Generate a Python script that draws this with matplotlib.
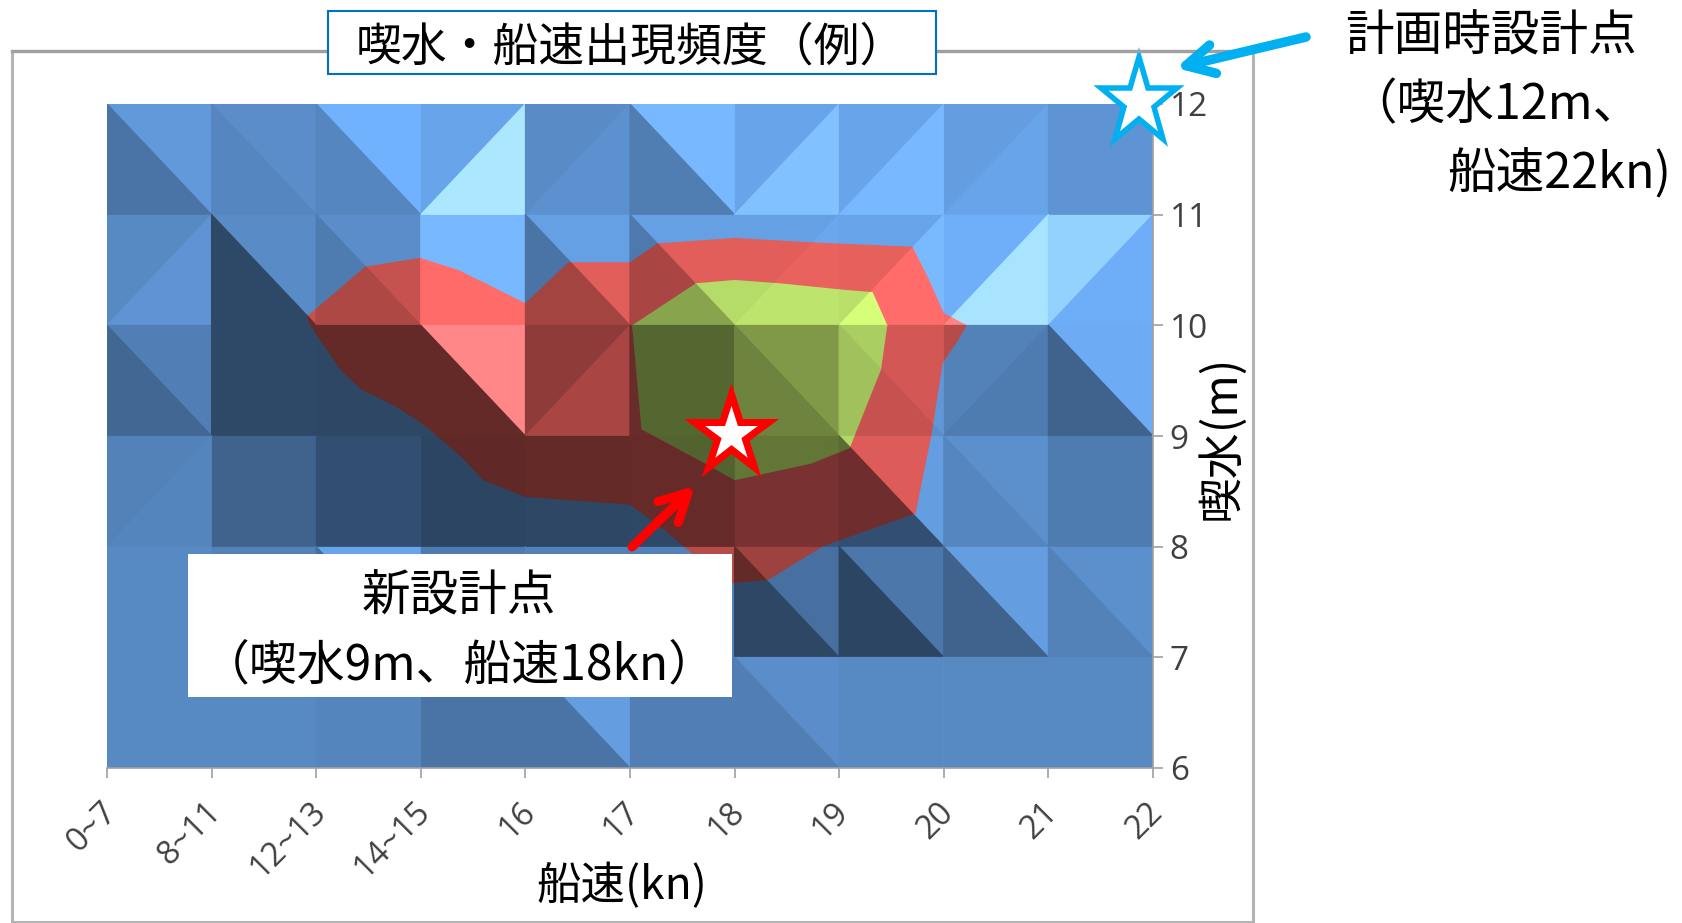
import numpy as np
import matplotlib
matplotlib.use("Agg")
import matplotlib.pyplot as plt
from matplotlib.collections import PolyCollection
from matplotlib.markers import MarkerStyle
from matplotlib.patches import Polygon, Rectangle
from matplotlib.transforms import Affine2D, ScaledTranslation

plt.rcParams["font.family"] = ["Noto Sans CJK JP", "DejaVu Sans"]

SPEED_LABELS = ["0~7", "8~11", "12~13", "14~15", "16", "17", "18", "19", "20", "21", "22"]
DRAFT_VALUES = [6, 7, 8, 9, 10, 11, 12]

# surface facets, rows run from draft 12 down to draft 6
# b = cell split top-left to bottom-right, f = split bottom-left to top-right
SPLITS = [
    "bbbffbffff",
    "fbbbbbffff",
    "bbbbfbbbfb",
    "fffffffbbf",
    "ffbffbbbbb",
    "ffffbfbfff",
]

# brightness of the upper facet in each cell
UPPER_SHADE = [
    [1.12, 1.03, 1.30, 1.20, 1.02, 1.35, 1.20, 1.20, 1.15, 1.08],
    [1.00, 1.02, 1.03, 1.35, 1.17, 1.17, 1.17, 1.20, 1.28, 1.55],
    [0.93, 0.53, 0.52, 1.75, 0.74, 0.55, 0.82, 1.10, 0.95, 1.25],
    [0.95, 0.72, 0.58, 0.50, 0.52, 0.53, 0.63, 1.15, 1.05, 0.90],
    [1.00, 0.95, 1.20, 0.90, 0.95, 0.95, 0.82, 0.87, 1.15, 1.05],
    [1.00, 1.00, 0.97, 0.85, 1.15, 0.93, 1.03, 1.00, 1.00, 1.00],
]

# brightness of the lower facet in each cell
LOWER_SHADE = [
    [0.85, 0.98, 0.98, 1.72, 1.06, 0.92, 1.42, 1.35, 1.20, 1.08],
    [1.08, 0.53, 0.90, 1.35, 0.85, 0.88, 1.22, 1.36, 1.70, 1.27],
    [0.75, 0.53, 0.52, 0.52, 0.88, 0.55, 0.70, 1.03, 0.90, 0.72],
    [0.97, 0.72, 0.58, 0.50, 0.52, 0.53, 0.63, 0.58, 0.98, 0.90],
    [1.00, 0.95, 0.80, 0.90, 0.95, 0.95, 0.52, 0.50, 0.72, 0.95],
    [1.00, 1.00, 0.97, 0.85, 0.85, 0.93, 0.93, 1.00, 1.00, 1.00],
]

# frequency contours as (speed index, draft)
MIDDLE_BAND = [
    (1.91, 10.08), (2.47, 10.53), (2.99, 10.61), (3.36, 10.50), (4.00, 10.20),
    (4.41, 10.57), (5.00, 10.57), (5.26, 10.74), (6.00, 10.79), (6.73, 10.75),
    (7.70, 10.71), (7.86, 10.41), (8.00, 10.11), (8.22, 10.00), (8.12, 9.84),
    (7.99, 9.66), (7.88, 9.00), (7.73, 8.30), (6.98, 8.05), (6.84, 8.00),
    (6.32, 7.70), (5.98, 7.67), (5.80, 7.68), (5.59, 7.94), (5.33, 8.15),
    (5.00, 8.38), (4.71, 8.40), (4.00, 8.45), (3.60, 8.60), (3.39, 8.81),
    (3.08, 9.06), (3.00, 9.12), (2.74, 9.28), (2.43, 9.42), (2.23, 9.60),
    (1.95, 9.99),
]
TOP_BAND = [
    (5.02, 10.00), (5.63, 10.38), (6.00, 10.41), (6.43, 10.38), (7.06, 10.32),
    (7.32, 10.30), (7.46, 10.00), (7.40, 9.60), (7.10, 8.89), (6.73, 8.75),
    (6.00, 8.60), (5.70, 8.76), (5.11, 9.06),
]

LOW_COLOR = (87, 137, 195)
MIDDLE_COLOR = (192, 80, 77)
TOP_COLOR = (155, 187, 89)

PLAN_POINT = (10, 12)
NEW_POINT = (6, 9)

PX = 0.72


def facets():
    polygons = []
    shades = []
    for row, split in enumerate(SPLITS):
        top = DRAFT_VALUES[-1] - row
        bottom = top - 1
        for col, kind in enumerate(split):
            left = col
            right = col + 1
            if kind == "b":
                upper = [(left, top), (right, top), (right, bottom)]
                lower = [(left, top), (right, bottom), (left, bottom)]
            else:
                upper = [(left, bottom), (left, top), (right, top)]
                lower = [(left, bottom), (right, top), (right, bottom)]
            polygons.append(upper)
            shades.append(UPPER_SHADE[row][col])
            polygons.append(lower)
            shades.append(LOWER_SHADE[row][col])
    return polygons, np.array(shades)


def draw_band(ax, polygons, shades, color, outline=None):
    colors = np.outer(shades, color)
    # the brightest facets wash out towards white
    lift = np.clip(shades - 1.3, 0, None)
    colors = colors + np.outer(lift, (50, -12, 0))
    colors = np.clip(colors / 255, 0, 1)
    band = PolyCollection(
        polygons,
        facecolors=colors,
        edgecolors=colors,
        linewidths=0.9,
        zorder=2
    )
    ax.add_collection(band)
    if outline is not None:
        band.set_clip_path(
            Polygon(outline, closed=True, transform=ax.transData)
        )
    else:
        band.set_clip_path(
            Rectangle((0, 0), 1, 1, transform=ax.transAxes)
        )


fig = plt.figure(figsize=(16.82, 9.23), dpi=100)

# surface axes, placed in pixels
ax = fig.add_axes([107 / 1682, 1 - 768 / 923, 1046 / 1682, 664 / 923])
ax.set_xlim(0, 10)
ax.set_ylim(6, 12)

polygons, shades = facets()
draw_band(ax, polygons, shades, LOW_COLOR)
draw_band(ax, polygons, shades, MIDDLE_COLOR, MIDDLE_BAND)
draw_band(ax, polygons, shades, TOP_COLOR, TOP_BAND)

ax.set_xticks(range(len(SPEED_LABELS)))
ax.set_xticklabels(
    SPEED_LABELS,
    rotation=45,
    ha="right",
    va="top",
    rotation_mode="anchor",
    fontsize=23.5,
    color="#404040",
    family=["Open Sans", "DejaVu Sans"]
)

ax.yaxis.tick_right()
ax.set_yticks(DRAFT_VALUES)
ax.set_yticklabels(
    DRAFT_VALUES,
    fontsize=24,
    color="#404040",
    family=["Open Sans", "DejaVu Sans"]
)
ax.tick_params(axis="x", length=7, width=1.2, color="#A0A0A0", pad=13)
ax.tick_params(axis="y", length=7, width=1.2, color="#A0A0A0", pad=5)
for side in ["top", "left"]:
    ax.spines[side].set_visible(False)
for side in ["bottom", "right"]:
    ax.spines[side].set_color("#A0A0A0")
    ax.spines[side].set_linewidth(1.2)

# tick_params resets label transforms, so shift the speed labels afterwards
label_shift = ScaledTranslation(-7 / 100, 0, fig.dpi_scale_trans)
for label in ax.get_xticklabels():
    label.set_transform(label.get_transform() + label_shift)

# overlay in pixel coordinates for frame, captions and arrows
over = fig.add_axes([0, 0, 1, 1], facecolor="none", zorder=5)
over.set_xlim(0, 1682)
over.set_ylim(923, 0)
over.axis("off")

over.add_patch(
    Rectangle((12, 51), 1241, 871, fill=False, edgecolor="#B4B4B4", linewidth=2.2)
)
over.plot([12, 1253], [51, 51], color="#A0A0A0", linewidth=2.4)
over.add_patch(
    Rectangle((328, 11), 608, 63, facecolor="white", edgecolor="#0070C0", linewidth=1.5, zorder=3)
)
over.text(
    356, 47, "喫水・船速出現頻度（例）",
    fontsize=33, ha="left", va="center", color="black", zorder=4
)

over.add_patch(Rectangle((188, 554), 544, 143, facecolor="white", edgecolor="none"))
over.text(459, 597, "新設計点", fontsize=35, ha="center", va="center", color="black")
over.text(
    459, 666, "（喫水9m、船速18kn）",
    fontsize=34.5, ha="center", va="center", color="black"
)

over.text(1345, 37, "計画時設計点", fontsize=35, ha="left", va="center", color="black")
over.text(1348, 106, "（喫水12m、", fontsize=35, ha="left", va="center", color="black")
over.text(1447, 173, "船速22kn)", fontsize=35, ha="left", va="center", color="black")

over.text(622, 886, "船速(kn)", fontsize=32, ha="center", va="center", color="black")
over.text(
    1221, 437, "喫水(m)",
    fontsize=33, ha="center", va="center", rotation=90, color="black"
)

over.annotate(
    "",
    xy=(1176, 68),
    xytext=(1306, 37),
    arrowprops=dict(
        arrowstyle="->,head_length=2.0,head_width=1.05",
        color="#00B0F0",
        linewidth=9.5 * PX,
        shrinkA=0,
        shrinkB=0
    )
)
over.annotate(
    "",
    xy=(695, 486),
    xytext=(632, 547),
    arrowprops=dict(
        arrowstyle="->,head_length=2.0,head_width=1.05",
        color="#FF0000",
        linewidth=9 * PX,
        shrinkA=0,
        shrinkB=0
    )
)

# design point markers, nudged off their grid nodes
plan_star = MarkerStyle("*", joinstyle="miter", transform=Affine2D().scale(1.03, 1.165))
new_star = MarkerStyle("*", joinstyle="miter", transform=Affine2D().scale(1.02, 1.06))
plan_trans = ax.transData + ScaledTranslation(-14 / 100, 2 / 100, fig.dpi_scale_trans)
new_trans = ax.transData + ScaledTranslation(-4 / 100, 2 / 100, fig.dpi_scale_trans)
ax.plot(
    [PLAN_POINT[0]], [PLAN_POINT[1]],
    marker=plan_star,
    markersize=78 * PX,
    markerfacecolor="white",
    markeredgecolor="#00B0F0",
    markeredgewidth=5.5 * PX,
    transform=plan_trans,
    clip_on=False,
    zorder=6
)
ax.plot(
    [NEW_POINT[0]], [NEW_POINT[1]],
    marker=new_star,
    markersize=76 * PX,
    markerfacecolor="white",
    markeredgecolor="#FF0000",
    markeredgewidth=7 * PX,
    transform=new_trans,
    clip_on=False,
    zorder=6
)
ax.set_xlim(0, 10)
ax.set_ylim(6, 12)

fig.savefig("out.png", dpi=100)
plt.close(fig)
